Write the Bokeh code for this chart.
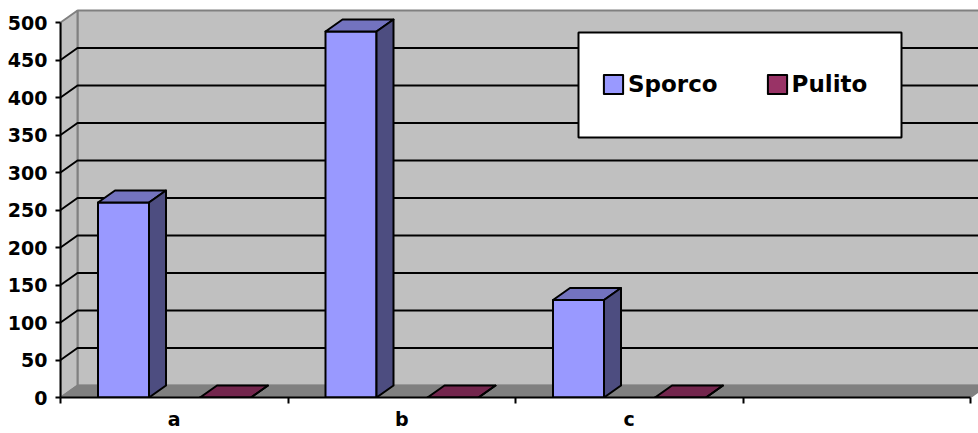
import numpy as np
from bokeh.plotting import figure
from bokeh.models import (Range1d, FixedTicker, Legend, LegendItem, BoxAnnotation)
from bokeh.embed import file_html
from bokeh.resources import INLINE

# ---- data ----
categories = ["a", "b", "c", ""]
series_names = ["Sporco", "Pulito"]
sporco = [260, 488, 130, 0]
pulito = [0, 0, 0, 0]
y_ticks = [0, 50, 100, 150, 200, 250, 300, 350, 400, 450, 500]

# ---- style ----
FRONT = ["#9999FF", "#993366"]
TOP = ["#7373BF", "#73264D"]
SIDE = ["#4D4D80", "#4D1A33"]
WALL = "#C0C0C0"
WALL_EDGE = "#808080"
FLOOR = "#808080"
FONT = "DejaVu Sans"

W, H = 978, 433
ML, MB = 60, 36
frame_w = W - ML
frame_h = H - MB
px_x = 227.5                    # pixels per category
px_y = 0.75                     # pixels per value unit
x_max = frame_w / px_x
y_top = frame_h / px_y
n_cat = len(categories)
dx = 17 / px_x                  # depth offset in data units
dy = 12 / px_y

bar_w = 51 / px_x
pad = 37.5 / px_x

p = figure(width=W, height=H, output_backend="svg", toolbar_location=None,
           x_range=Range1d(0, x_max), y_range=Range1d(0, y_top),
           min_border_left=ML, min_border_right=0, min_border_top=0,
           min_border_bottom=MB, background_fill_color="white",
           border_fill_color="white", outline_line_color=None)
p.xgrid.visible = False
p.ygrid.visible = False

# walls and floor
ymax = y_ticks[-1]
p.quad(left=[dx], right=[n_cat + dx + 1], bottom=[dy], top=[ymax + dy],
       fill_color=WALL, line_color=WALL_EDGE, line_width=2)
p.patch([0, dx, dx, 0], [0, dy, ymax + dy, ymax], fill_color=WALL,
        line_color=WALL_EDGE, line_width=2)
p.patch([0, n_cat, n_cat + dx, dx], [0, 0, dy, dy], fill_color=FLOOR,
        line_color=WALL_EDGE, line_width=1.5)

# gridlines: left wall diagonal + back wall horizontal
gx, gy = [], []
for v in y_ticks[1:-1]:
    gx.append([0, dx, n_cat + dx + 1])
    gy.append([v, v + dy, v + dy])
p.multi_line(gx, gy, line_color="black", line_width=2)

# bars
front_renderers = []
for s, vals in enumerate([sporco, pulito]):
    fx, fy, tx, ty, sx, sy = [], [], [], [], [], []
    for i, v in enumerate(vals):
        if categories[i] == "":
            continue
        xl = i + pad + s * 2 * bar_w
        xr = xl + bar_w
        fx.append([xl, xr, xr, xl]); fy.append([0, 0, v, v])
        tx.append([xl, xr, xr + dx, xl + dx]); ty.append([v, v, v + dy, v + dy])
        sx.append([xr, xr + dx, xr + dx, xr]); sy.append([0, dy, v + dy, v])
    r = p.patches(fx, fy, fill_color=FRONT[s], line_color="black", line_width=2,
                  line_join="round")
    p.patches(tx, ty, fill_color=TOP[s], line_color="black", line_width=2,
              line_join="round")
    p.patches(sx, sy, fill_color=SIDE[s], line_color="black", line_width=2,
              line_join="round")
    front_renderers.append(r)

# axes
ya = p.yaxis[0]
ya.ticker = FixedTicker(ticks=y_ticks)
ya.bounds = (0, ymax)
ya.axis_line_color = "black"
ya.axis_line_width = 2
ya.major_tick_line_color = "black"
ya.major_tick_line_width = 2
ya.major_tick_out = 5
ya.major_tick_in = 0
ya.minor_tick_line_color = None
ya.major_label_standoff = 8
ya.major_label_text_font = FONT
ya.major_label_text_font_style = "bold"
ya.major_label_text_font_size = "19px"
ya.major_label_text_color = "black"

xa = p.xaxis[0]
centers = [i + 0.5 for i in range(n_cat)]
xa.ticker = FixedTicker(ticks=centers, minor_ticks=list(range(n_cat + 1)))
xa.major_label_overrides = {c: lab for c, lab in zip(centers, categories)}
xa.bounds = (0, n_cat)
xa.axis_line_color = "black"
xa.axis_line_width = 2
xa.major_tick_line_color = None
xa.major_tick_out = 0
xa.major_tick_in = 0
xa.minor_tick_line_color = "black"
xa.minor_tick_line_width = 2
xa.minor_tick_out = 6
xa.minor_tick_in = 0
xa.major_label_standoff = 4
xa.major_label_text_font = FONT
xa.major_label_text_font_style = "bold"
xa.major_label_text_font_size = "19px"
xa.major_label_text_color = "black"

# legend box
box = BoxAnnotation(left=(578 - ML) / px_x, right=(901 - ML) / px_x,
                    top=(frame_h - 32) / px_y, bottom=(frame_h - 137) / px_y,
                    fill_color="white", fill_alpha=1, line_color="black",
                    line_width=2, line_alpha=1, level="overlay")
p.add_layout(box)

legend = Legend(items=[LegendItem(label=series_names[k], renderers=[front_renderers[k]])
                       for k in range(2)],
                orientation="horizontal", location=(541, 300),
                padding=0, margin=0, spacing=47, glyph_width=24, glyph_height=24,
                label_standoff=3, label_text_font=FONT,
                label_text_font_style="bold", label_text_font_size="23px",
                label_text_color="black", border_line_color=None,
                background_fill_alpha=0, level="overlay")
p.add_layout(legend, "center")

open("out.html", "w").write(file_html(p, INLINE))
